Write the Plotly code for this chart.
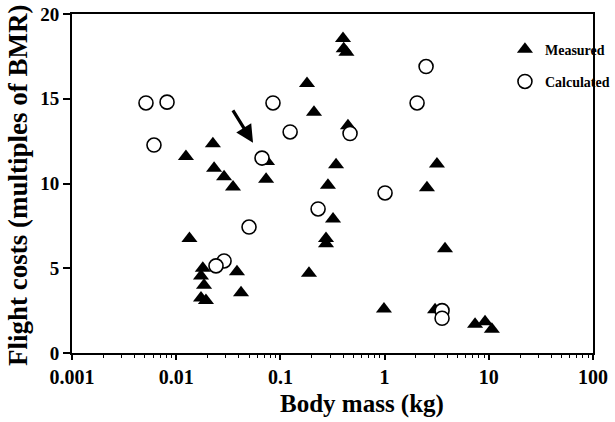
import math
import plotly.graph_objects as go

# Measured (filled triangles): body mass (kg), flight cost (multiples of BMR)
measured_mass = [0.0124, 0.0134, 0.0225, 0.0231, 0.0288, 0.0351,
                 0.0180, 0.0173, 0.0185, 0.0173, 0.0193,
                 0.0383, 0.0419, 0.0744, 0.0729,
                 0.399, 0.405, 0.43, 0.180, 0.210, 0.445,
                 0.342, 0.286, 0.320, 0.274, 0.274, 0.188,
                 0.986, 3.05, 3.80, 7.38, 9.2, 10.7, 3.18, 2.55]
measured_cost = [11.6, 6.75, 12.35, 10.9, 10.4, 9.8,
                 5.0, 4.55, 4.0, 3.25, 3.1,
                 4.8, 3.55, 11.3, 10.25,
                 18.55, 17.95, 17.75, 15.9, 14.2, 13.4,
                 11.1, 9.9, 7.9, 6.75, 6.45, 4.7,
                 2.6, 2.55, 6.15, 1.7, 1.85, 1.4, 11.15, 9.75]

# Calculated (open circles)
calc_mass = [0.00513, 0.00817, 0.00612, 0.0666, 0.0849, 0.124,
             2.50, 2.05, 0.466, 1.01, 0.23,
             0.050, 0.0288, 0.0241, 3.56, 3.56]
calc_cost = [14.75, 14.8, 12.27, 11.5, 14.75, 13.04,
             16.9, 14.75, 12.95, 9.44, 8.5,
             7.43, 5.43, 5.14, 2.5, 2.05]

# Arrow annotation (tail -> head) in data units
arrow_tail = (0.0343, 14.4)
arrow_head = (0.0546, 12.4)

x_ticks = [0.001, 0.01, 0.1, 1, 10, 100]
x_ticktext = ["0.001", "0.01", "0.1", "1", "10", "100"]
y_ticks = [0, 5, 10, 15, 20]

x_title = "Body mass (kg)"
y_title = "Flight costs (multiples of BMR)"

FONT = "Liberation Serif, Times New Roman, serif"

fig = go.Figure()
fig.add_trace(go.Scatter(
    x=measured_mass, y=measured_cost, mode="markers", name="Measured",
    legendgroup="m",
    marker=dict(symbol="triangle-up", size=14, color="black",
                line=dict(width=0)),
))
fig.add_trace(go.Scatter(
    x=calc_mass, y=calc_cost, mode="markers", name="Calculated",
    legendgroup="c",
    marker=dict(symbol="circle", size=14, color="white",
                line=dict(color="black", width=1.6)),
))

fig.add_annotation(
    x=math.log10(arrow_head[0]), y=arrow_head[1],
    ax=math.log10(arrow_tail[0]), ay=arrow_tail[1],
    xref="x", yref="y", axref="x", ayref="y",
    showarrow=True, arrowhead=2, arrowsize=1.1, arrowwidth=3.2,
    arrowcolor="black", text="",
)

# Axis titles as annotations (positioned like the original)
fig.add_annotation(
    text=x_title, xref="paper", yref="paper", x=0.557, y=-0.150,
    xanchor="center", yanchor="middle", showarrow=False,
    font=dict(family=FONT, size=25, color="black", weight="bold"),
)
fig.add_annotation(
    text=y_title, xref="paper", yref="paper", x=-0.104, y=0.495,
    xanchor="center", yanchor="middle", showarrow=False, textangle=-90,
    font=dict(family=FONT, size=27, color="black", weight="bold"),
)

fig.update_xaxes(
    type="log", range=[-3, 2], automargin=False,
    tickvals=x_ticks, ticktext=x_ticktext,
    showgrid=False, zeroline=False,
    showline=True, linecolor="black", linewidth=2, mirror=True,
    ticks="outside", ticklen=5, tickwidth=1.5, tickcolor="black",
    minor=dict(ticks="outside", ticklen=3, tickwidth=1.2, tickcolor="black",
               dtick="D1", showgrid=False),
    ticklabeloverflow="allow",
    tickfont=dict(family=FONT, size=20, color="black", weight="bold"),
)
fig.update_yaxes(
    range=[0, 20], tickvals=y_ticks, automargin=False,
    showgrid=False, zeroline=False,
    showline=True, linecolor="black", linewidth=2, mirror=True,
    ticks="outside", ticklen=7, tickwidth=1.5, tickcolor="black",
    ticklabeloverflow="allow",
    tickfont=dict(family=FONT, size=19, color="black", weight="bold"),
)

fig.update_layout(
    width=615, height=422,
    margin=dict(l=72, r=22, t=14, b=69, autoexpand=False),
    paper_bgcolor="white", plot_bgcolor="white",
    showlegend=True,
    legend=dict(x=0.831, y=0.942, xanchor="left", yanchor="top",
                bgcolor="rgba(0,0,0,0)", borderwidth=0,
                traceorder="grouped", tracegroupgap=11,
                itemwidth=30,
                font=dict(family=FONT, size=14, color="black", weight="bold")),
)

fig.write_html("out.html",
               config={"displayModeBar": False},
               post_script="document.body.style.margin='0';")
